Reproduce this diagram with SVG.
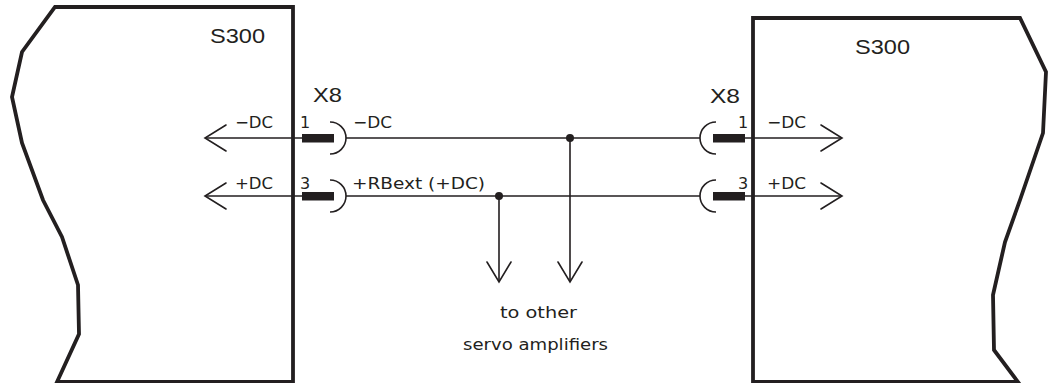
<svg xmlns="http://www.w3.org/2000/svg" width="1051" height="383" viewBox="0 0 1051 383">
<style>
.box{fill:none;stroke:#231f20;stroke-width:3.8;stroke-linejoin:miter}
.w{fill:none;stroke:#231f20;stroke-width:1.6}
.ar{fill:none;stroke:#231f20;stroke-width:1.6;stroke-linecap:round;stroke-linejoin:miter}
.bar{fill:#231f20}
.t{fill:#231f20}
.big{font-family:"Liberation Sans",Arial,sans-serif;font-size:21px}
.sm{font-family:"DejaVu Sans","Liberation Sans",sans-serif;font-size:16px}
</style>
<rect width="1051" height="383" fill="#fff"/>
<g id="amp-left">
<path class="box" d="M293,7 L55,7 L22,52 L12,97 L22,143 L43,200 L62,237 L78,285 L79,334 L57,382 L293,382 Z"/>
<text class="t big" x="210" y="43" textLength="55" lengthAdjust="spacingAndGlyphs">S300</text>
<text class="t big" x="313" y="102" textLength="29" lengthAdjust="spacingAndGlyphs">X8</text>
</g>
<g id="amp-right">
<path class="box" d="M753,382 L753,18 L1020,18 L1046,72 L1043,133 L1020,200 L1005,242 L993,295 L994,350 L1018,382 Z"/>
<text class="t big" x="855" y="54" textLength="55" lengthAdjust="spacingAndGlyphs">S300</text>
<text class="t big" x="710" y="103" textLength="30" lengthAdjust="spacingAndGlyphs">X8</text>
</g>
<g id="x8-left">
<rect class="bar" x="302" y="134" width="32" height="8.5"/>
<rect class="bar" x="302" y="192" width="32" height="8.5"/>
<path class="w" d="M330,122 A16,16 0 0 1 330,154"/>
<path class="w" d="M330,180 A16,16 0 0 1 330,212"/>
<text class="t sm" x="300" y="128">1</text>
<text class="t sm" x="300" y="189">3</text>
</g>
<g id="x8-right">
<rect class="bar" x="713" y="134" width="32" height="8.5"/>
<rect class="bar" x="713" y="192" width="32" height="8.5"/>
<path class="w" d="M716,122 A16,16 0 0 0 716,154"/>
<path class="w" d="M716,180 A16,16 0 0 0 716,212"/>
<text class="t sm" x="738" y="128">1</text>
<text class="t sm" x="738" y="189">3</text>
</g>
<g id="connectors">
<path class="w" d="M205,138 H302 M205,196 H302"/>
<path class="ar" d="M226,125 L205,138 L226,151 M226,183 L205,196 L226,209"/>
<path class="w" d="M346,138 H700 M346,196 H700"/>
<path class="w" d="M745,138 H842 M745,196 H842"/>
<path class="ar" d="M821,125 L842,138 L821,151 M821,183 L842,196 L821,209"/>
<path class="w" d="M570,138 V282 M499,196 V282"/>
<path class="ar" d="M558,262 L570,282 L582,262 M487,262 L499,282 L511,262"/>
<circle cx="570" cy="138" r="4" fill="#231f20"/>
<circle cx="499" cy="196" r="4" fill="#231f20"/>
</g>
<g id="labels">
<text class="t sm" x="235" y="128" textLength="38" lengthAdjust="spacingAndGlyphs">−DC</text>
<text class="t sm" x="235" y="189" textLength="38" lengthAdjust="spacingAndGlyphs">+DC</text>
<text class="t sm" x="353" y="128" textLength="39" lengthAdjust="spacingAndGlyphs">−DC</text>
<text class="t sm" x="352" y="189" textLength="133" lengthAdjust="spacingAndGlyphs">+RBext (+DC)</text>
<text class="t sm" x="767" y="128" textLength="39" lengthAdjust="spacingAndGlyphs">−DC</text>
<text class="t sm" x="767" y="189" textLength="39" lengthAdjust="spacingAndGlyphs">+DC</text>
<text class="t sm" x="500" y="318" textLength="77" lengthAdjust="spacingAndGlyphs">to other</text>
<text class="t sm" x="463" y="350" textLength="145" lengthAdjust="spacingAndGlyphs">servo amplifiers</text>
</g>
</svg>
